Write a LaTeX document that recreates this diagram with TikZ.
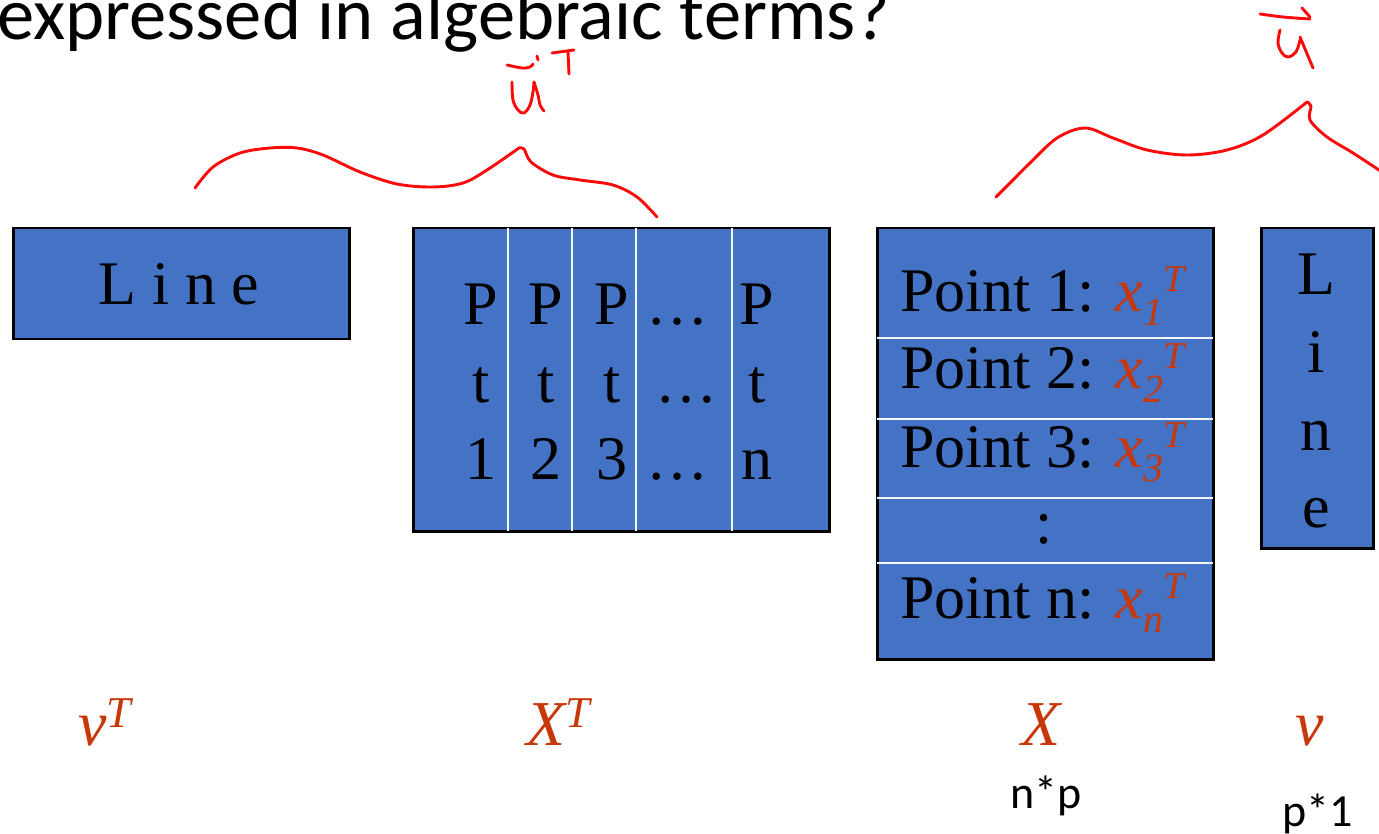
\documentclass[tikz,border=0pt]{standalone}
\usepackage{fontspec}
\setmainfont{Liberation Serif}
\newfontfamily\calibri{Carlito}
\definecolor{boxblue}{HTML}{4472C4}
\definecolor{mred}{RGB}{200,55,10}
\definecolor{ink}{RGB}{250,10,10}
\newcommand\xv[1]{\textcolor{mred}{\itshape x\raisebox{-14pt}{\fontsize{40}{40}\selectfont #1}\raisebox{20pt}{\fontsize{38}{38}\selectfont T}}}
\tikzset{
  mbox/.style={draw=black, line width=2.5pt, fill=boxblue, anchor=north west, inner sep=0pt},
  tnr/.style={font=\fontsize{62}{62}\selectfont, inner sep=0pt, anchor=base},
  tnrw/.style={tnr, anchor=base west},
  div/.style={draw=white!92!gray, line width=1.8pt},
  redlab/.style={text=mred, font=\fontsize{64}{64}\selectfont\itshape, inner sep=0pt, anchor=base west},
  sfl/.style={font=\calibri\fontsize{46}{46}\selectfont, inner sep=0pt, anchor=base west},
  hand/.style={draw=ink, line width=2.9pt, line cap=round, line join=round}
}
\begin{document}
\begin{tikzpicture}[x=1pt,y=-1pt]
\useasboundingbox (0,0) rectangle (1379,834);
% title
\node[font=\calibri\fontsize{74.5}{74.5}\selectfont, inner sep=0pt, anchor=base west] (title) at (-3,40) {expressed in algebraic terms?};
% boxes
\node[mbox, minimum width=336pt, minimum height=111pt] (linebox) at (12,227) {};
\node[mbox, minimum width=416pt, minimum height=303pt] (xt) at (412,227) {};
\node[mbox, minimum width=336pt, minimum height=431pt] (xb) at (876,227) {};
\node[mbox, minimum width=112pt, minimum height=320pt] (vb) at (1260,227) {};
% dividers XT
\foreach \d in {96,160,224,320}
  \draw[div] ([xshift=\d pt, yshift=-1.3pt]xt.north west) -- ([xshift=\d pt, yshift=1.3pt]xt.south west);
% dividers X
\foreach \d in {111,192,271,336}
  \draw[div] ([yshift=-\d pt, xshift=1.3pt]xb.north west) -- ([yshift=-\d pt, xshift=-1.3pt]xb.north east);
% Line box text
\node[tnr] (lt) at (179,305) {L i n e};
% XT texts
\node[tnr] (p1) at (481,325) {P};
\node[tnr] (p2) at (546,325) {P};
\node[tnr] (p3) at (612,325) {P};
\node[tnr] (p4) at (677,325) {\dots};
\node[tnr] (p5) at (757,325) {P};
\node[tnr] (t1) at (481,402) {t};
\node[tnr] (t2) at (546,402) {t};
\node[tnr] (t3) at (612,402) {t};
\node[tnr] (t4) at (686,402) {\dots};
\node[tnr] (t5) at (757,402) {t};
\node[tnr] (n1) at (481,479) {1};
\node[tnr] (n2) at (546,479) {2};
\node[tnr] (n3) at (612,479) {3};
\node[tnr] (n4) at (677,479) {\dots};
\node[tnr] (n5) at (757,479) {n};
% X texts
\node[tnrw] (r1) at (900,312) {Point 1: \xv{1}};
\node[tnrw] (r2) at (900,388) {Point 2: \xv{2}};
\node[tnrw] (r3) at (900,467) {Point 3: \xv{3}};
\node[tnr] (r4) at (1044,543) {:};
\node[tnrw] (r5) at (900,618) {Point n: \xv{n}};
% v box letters
\node[tnr] (vl) at (1316,295) {L};
\node[tnr] (vi) at (1316,372) {i};
\node[tnr] (vn) at (1316,450) {n};
\node[tnr] (ve) at (1316,527) {e};
% bottom labels
\node[redlab] (lvT) at (78,745) {v\raisebox{18pt}{\fontsize{44}{44}\selectfont T}};
\node[redlab] (lXT) at (526,745) {X\raisebox{18pt}{\fontsize{44}{44}\selectfont T}};
\node[redlab] (lX) at (1021,745) {X};
\node[redlab] (lv) at (1295,745) {v};
\node[sfl] (np) at (1010,808) {n*p};
\node[sfl] (p1l) at (1282,826) {p*1};
% handwriting: left brace
\draw[hand] plot[smooth, tension=0.55] coordinates {(195,188) (213,167) (240,153) (270,148) (297,148) (323,155) (360,172) (397,184) (433,187) (463,183) (487,170) (519,148)};
\draw[hand] plot[smooth, tension=0.55] coordinates {(519,148) (524,149) (531,162) (553,175) (580,180) (613,185) (637,197) (657,217)};
% u^T
\draw[hand] plot[smooth, tension=0.6] coordinates {(507,65) (522,68) (530,67) (533,64)};
\draw[hand] (537,56) -- (538,60);
\draw[hand] plot[smooth, tension=0.6] coordinates {(512,82) (513,100) (518,110) (524,113) (530,105) (533,92) (534,82)};
\draw[hand] plot[smooth, tension=0.6] coordinates {(534,82) (538,95) (540,105) (544,111)};
\draw[hand] (552,53) -- (574,50);
\draw[hand] (568,52) -- (569,74);
% right brace
\draw[hand] plot[smooth, tension=0.55] coordinates {(996,197) (1013,180) (1030,163) (1057,138) (1085,128) (1113,138) (1147,150) (1187,155) (1227,150) (1263,135) (1307,102)};
\draw[hand] plot[smooth, tension=0.55] coordinates {(1307,102) (1311,106) (1310,120) (1327,137) (1353,153) (1385,174)};
% vector u
\draw[hand] plot[smooth, tension=0.6] coordinates {(1260,14) (1283,17) (1310,19)};
\draw[hand] (1302,8) -- (1310,17);
\draw[hand] plot[smooth, tension=0.6] coordinates {(1280,30) (1278,43) (1282,53) (1288,57) (1296,52) (1300,40)};
\draw[hand] (1300,37) -- (1313,68);
\end{tikzpicture}
\end{document}
